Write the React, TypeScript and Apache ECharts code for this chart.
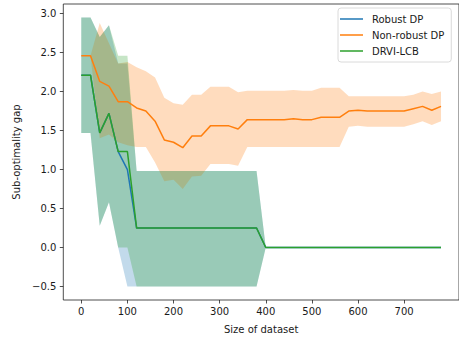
import React, { useEffect, useRef } from "react";
import * as echarts from "echarts";

const sizes = [0, 20, 40, 60, 80, 100, 120, 140, 160, 180, 200, 220, 240, 260, 280, 300, 320, 340, 360, 380, 400, 420, 440, 460, 480, 500, 520, 540, 560, 580, 600, 620, 640, 660, 680, 700, 720, 740, 760, 780];

const robustMean = [2.21, 2.21, 1.47, 1.72, 1.23, 1.0, 0.25, 0.25, 0.25, 0.25, 0.25, 0.25, 0.25, 0.25, 0.25, 0.25, 0.25, 0.25, 0.25, 0.25, 0, 0, 0, 0, 0, 0, 0, 0, 0, 0, 0, 0, 0, 0, 0, 0, 0, 0, 0, 0];
const robustUpper = [2.95, 2.95, 2.7, 2.85, 2.36, 2.36, 0.98, 0.98, 0.98, 0.98, 0.98, 0.98, 0.98, 0.98, 0.98, 0.98, 0.98, 0.98, 0.98, 0.98, 0, 0, 0, 0, 0, 0, 0, 0, 0, 0, 0, 0, 0, 0, 0, 0, 0, 0, 0, 0];
const robustLower = [1.47, 1.47, 0.28, 0.58, 0.0, -0.5, -0.5, -0.5, -0.5, -0.5, -0.5, -0.5, -0.5, -0.5, -0.5, -0.5, -0.5, -0.5, -0.5, -0.5, 0, 0, 0, 0, 0, 0, 0, 0, 0, 0, 0, 0, 0, 0, 0, 0, 0, 0, 0, 0];

const nonRobustMean = [2.46, 2.46, 2.13, 2.07, 1.87, 1.87, 1.79, 1.75, 1.62, 1.38, 1.35, 1.28, 1.43, 1.43, 1.56, 1.56, 1.56, 1.52, 1.64, 1.64, 1.64, 1.64, 1.64, 1.65, 1.64, 1.64, 1.67, 1.67, 1.67, 1.75, 1.76, 1.75, 1.75, 1.75, 1.75, 1.75, 1.78, 1.81, 1.76, 1.81];
const nonRobustUpper = [2.46, 2.46, 2.88, 2.62, 2.36, 2.38, 2.31, 2.26, 2.18, 1.92, 1.85, 1.83, 1.96, 1.96, 2.06, 2.06, 2.06, 1.99, 2.01, 2.01, 2.01, 2.01, 2.01, 2.02, 2.01, 2.01, 2.05, 2.05, 2.05, 1.94, 1.94, 1.94, 1.94, 1.94, 1.94, 1.94, 1.96, 2.0, 1.97, 2.0];
const nonRobustLower = [2.46, 2.46, 1.4, 1.45, 1.35, 1.31, 1.29, 1.29, 1.09, 0.85, 0.87, 0.75, 0.91, 0.92, 1.07, 1.07, 1.07, 1.05, 1.29, 1.29, 1.29, 1.29, 1.29, 1.29, 1.29, 1.29, 1.29, 1.29, 1.29, 1.55, 1.56, 1.55, 1.55, 1.55, 1.55, 1.55, 1.58, 1.62, 1.57, 1.62];

const drviMean = [2.21, 2.21, 1.47, 1.72, 1.23, 1.23, 0.25, 0.25, 0.25, 0.25, 0.25, 0.25, 0.25, 0.25, 0.25, 0.25, 0.25, 0.25, 0.25, 0.25, 0, 0, 0, 0, 0, 0, 0, 0, 0, 0, 0, 0, 0, 0, 0, 0, 0, 0, 0, 0];
const drviUpper = [2.95, 2.95, 2.7, 2.85, 2.46, 2.46, 0.98, 0.98, 0.98, 0.98, 0.98, 0.98, 0.98, 0.98, 0.98, 0.98, 0.98, 0.98, 0.98, 0.98, 0, 0, 0, 0, 0, 0, 0, 0, 0, 0, 0, 0, 0, 0, 0, 0, 0, 0, 0, 0];
const drviLower = [1.47, 1.47, 0.28, 0.58, 0.0, 0.0, -0.5, -0.5, -0.5, -0.5, -0.5, -0.5, -0.5, -0.5, -0.5, -0.5, -0.5, -0.5, -0.5, -0.5, 0, 0, 0, 0, 0, 0, 0, 0, 0, 0, 0, 0, 0, 0, 0, 0, 0, 0, 0, 0];

const xTicks = [0, 100, 200, 300, 400, 500, 600, 700];
const yTicks = [-0.5, 0, 0.5, 1.0, 1.5, 2.0, 2.5, 3.0];

const seriesNames = ["Robust DP", "Non-robust DP", "DRVI-LCB"];
const colors = ["#1f77b4", "#ff7f0e", "#2ca02c"];

const FONT = "DejaVu Sans";

function pairs(vals: number[]) {
  return sizes.map((x, i) => [x, vals[i]]);
}

function band(id: string, lower: number[], upper: number[], color: string, z: number) {
  return {
    type: "custom",
    name: id,
    data: [[sizes[0], lower[0]]],
    encode: { x: 0, y: 1 },
    clip: true,
    silent: true,
    z,
    renderItem: (_params: any, api: any) => {
      const pts: number[][] = [];
      for (let i = 0; i < sizes.length; i++) pts.push(api.coord([sizes[i], upper[i]]));
      for (let i = sizes.length - 1; i >= 0; i--) pts.push(api.coord([sizes[i], lower[i]]));
      return {
        type: "polygon",
        shape: { points: pts },
        style: { fill: color, opacity: 0.27, stroke: "none" },
      };
    },
  };
}

function lineSeries(name: string, vals: number[], color: string) {
  return {
    type: "line",
    name,
    data: pairs(vals),
    symbol: "none",
    color,
    lineStyle: { color, width: 1.5 },
    z: 5,
  };
}

export default function App() {
  const ref = useRef<HTMLDivElement>(null);
  useEffect(() => {
    if (!ref.current) return;
    const chart = echarts.init(ref.current, undefined, { renderer: "svg" });
    const fmt = (v: number) => {
      const s = Math.abs(v).toFixed(1);
      return v < 0 ? "\u2212" + s : s;
    };
    chart.setOption({
      animation: false,
      grid: {
        left: 63.3,
        top: 4,
        right: -4.5,
        bottom: 37.3,
        show: true,
        borderColor: "#222",
        borderWidth: 0.8,
        backgroundColor: "transparent",
      },
      legend: {
        data: seriesNames,
        orient: "vertical",
        left: 338,
        top: 8,
        padding: [5, 7, 5, 2],
        itemGap: 4,
        itemWidth: 23,
        itemHeight: 1.5,
        icon: "rect",
        backgroundColor: "#fff",
        borderColor: "#d0d0d0",
        borderWidth: 0.8,
        borderRadius: 3,
        textStyle: {
          fontFamily: FONT,
          fontSize: 10,
          color: "#1a1a1a",
          lineHeight: 12,
          padding: [0, 0, 0, 4],
        },
      },
      xAxis: {
        type: "value",
        min: -39,
        max: 819,
        name: "Size of dataset",
        nameLocation: "middle",
        nameGap: 24,
        nameTextStyle: { fontFamily: FONT, fontSize: 10, color: "#1a1a1a" },
        splitLine: { show: false },
        axisLine: { show: false, onZero: false },
        axisTick: {
          show: true,
          length: 3.5,
          lineStyle: { color: "#222", width: 0.8 },
          customValues: xTicks,
        },
        axisLabel: {
          fontFamily: FONT,
          fontSize: 10,
          color: "#1a1a1a",
          margin: 6,
          customValues: xTicks,
          formatter: (v: number) => String(v),
        },
      },
      yAxis: {
        type: "value",
        min: -0.6725,
        max: 3.1225,
        name: "Sub-optimality gap",
        nameLocation: "middle",
        nameGap: 40,
        nameTextStyle: { fontFamily: FONT, fontSize: 10, color: "#1a1a1a" },
        splitLine: { show: false },
        axisLine: { show: false, onZero: false },
        axisTick: {
          show: true,
          length: 3.5,
          lineStyle: { color: "#222", width: 0.8 },
          customValues: yTicks,
        },
        axisLabel: {
          fontFamily: FONT,
          fontSize: 10,
          color: "#1a1a1a",
          margin: 7,
          customValues: yTicks,
          formatter: fmt,
        },
      },
      series: [
        band("rb", robustLower, robustUpper, colors[0], 1),
        band("nr", nonRobustLower, nonRobustUpper, colors[1], 2),
        band("dr", drviLower, drviUpper, colors[2], 3),
        lineSeries(seriesNames[0], robustMean, colors[0]),
        lineSeries(seriesNames[1], nonRobustMean, colors[1]),
        lineSeries(seriesNames[2], drviMean, colors[2]),
      ],
    });
    return () => chart.dispose();
  }, []);
  return (
    <div
      ref={ref}
      style={{ position: "fixed", left: 0, top: 0, width: 459, height: 339, background: "#fff" }}
    />
  );
}
